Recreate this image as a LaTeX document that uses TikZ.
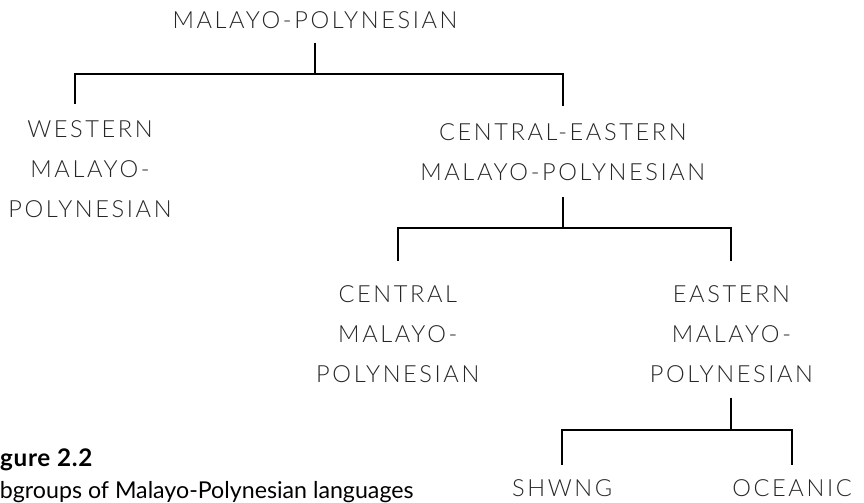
\documentclass[tikz,border=0pt]{standalone}
\usepackage{fontspec}
\setmainfont{Lato}
\newfontfamily\treefont{Lato Light}[LetterSpace=11]
\newfontfamily\capfont{Lato}[LetterSpace=3]
\usetikzlibrary{positioning}

\begin{document}
\begin{tikzpicture}[
    lang/.style={font=\treefont\fontsize{11.2}{18.9}\selectfont, align=center,
                 inner sep=0pt, anchor=base, text=black!85},
    branch/.style={line width=1pt},
    figlabel/.style={font=\capfont\fontsize{11.5}{13}\selectfont\bfseries,
                     inner sep=0pt, anchor=base west},
    figtext/.style={font=\fontsize{11}{13}\selectfont, inner sep=0pt, anchor=base west}
]

    % Page (the caption runs past the left edge)
    \path[use as bounding box, clip] (0,0) rectangle (14.4,-8.383);

    % Top level
    \node[lang] (mp) at (5.25,-0.483) {MALAYO-POLYNESIAN};

    % Second level (base = last line)
    \node[lang] (wmp) at (1.5,-3.617) {WESTERN\\MALAYO-\\POLYNESIAN};
    \node[lang] (cemp) at (9.38,-3.0) {CENTRAL-EASTERN\\MALAYO-POLYNESIAN};

    % Third level
    \node[lang] (cmp) at (6.63,-6.367) {CENTRAL\\MALAYO-\\POLYNESIAN};
    \node[lang] (emp) at (12.19,-6.367) {EASTERN\\MALAYO-\\POLYNESIAN};

    % Fourth level
    \node[lang] (shwng) at (9.37,-8.283) {SHWNG};
    \node[lang] (oceanic) at (13.2,-8.283) {OCEANIC};

    % Forks
    \coordinate (fork1) at (5.25,-1.233);
    \coordinate (fork2) at (9.38,-3.8);
    \coordinate (fork3) at (12.19,-7.167);

    % Branches
    \draw[branch, shorten <=0.23cm] (mp.south) -- (fork1);
    \draw[branch, shorten >=0.27cm] (fork1) -| ([xshift=-0.25cm]wmp.north);
    \draw[branch, shorten >=0.28cm] (fork1) -| (cemp.north);

    \draw[branch, shorten <=0.28cm] (cemp.south) -- (fork2);
    \draw[branch, shorten >=0.4cm] (fork2) -| (cmp.north);
    \draw[branch, shorten >=0.4cm] (fork2) -| (emp.north);

    \draw[branch, shorten <=0.25cm] (emp.south) -- (fork3);
    \draw[branch, shorten >=0.25cm] (fork3) -| (shwng.north);
    \draw[branch, shorten >=0.25cm] (fork3) -| (oceanic.north);

    % Caption
    \node[figlabel] (fig) at (-0.36,-7.78) {Figure 2.2};
    \node[figtext] (figcap) at (-0.43,-8.3) {Subgroups of Malayo-Polynesian languages};

\end{tikzpicture}
\end{document}
